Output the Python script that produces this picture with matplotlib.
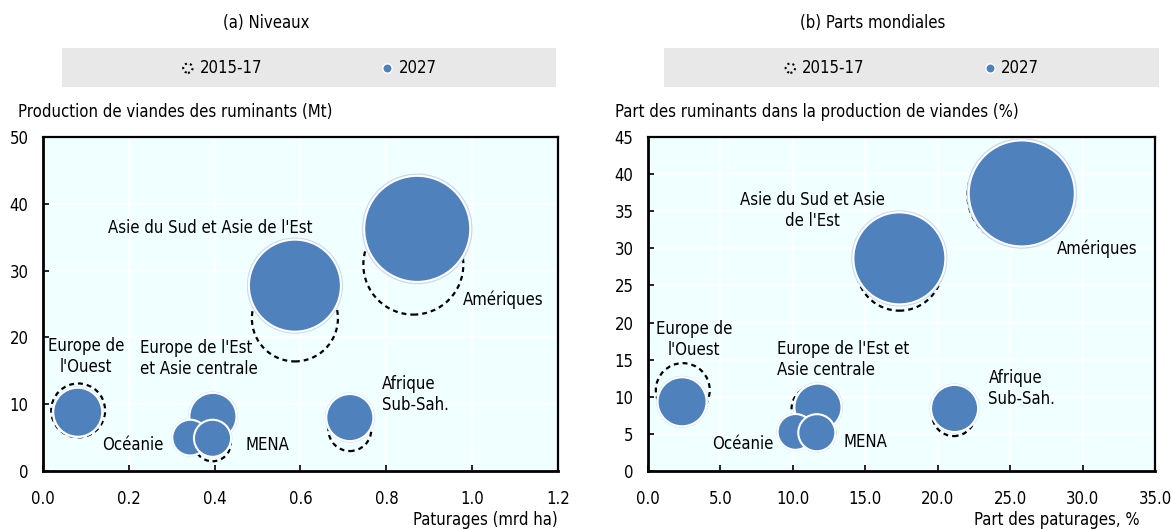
import numpy as np
import matplotlib.pyplot as plt
from matplotlib.patches import Rectangle
from matplotlib.ticker import FormatStrFormatter

plt.rcParams['font.family'] = ['DejaVu Sans']
plt.rcParams['font.stretch'] = 'condensed'
plt.rcParams['font.size'] = 12

# Regions (same order in both panels)
regions = ["Amériques", "Asie du Sud et Asie de l'Est", "Europe de l'Ouest",
           "Europe de l'Est et Asie centrale", "Océanie", "MENA", "Afrique Sub-Sah."]

# Bubble size = ruminant meat production (Mt)
size_2015 = [32.0, 23.7, 9.3, 6.0, 3.5, 4.3, 5.9]
size_2027 = [36.0, 27.1, 7.7, 7.1, 4.1, 4.4, 7.1]

# (a) Niveaux: pastures (bn ha) vs ruminant meat production (Mt)
a_x_2015 = [0.863, 0.587, 0.082, 0.396, 0.343, 0.395, 0.715]
a_y_2015 = [30.9, 22.85, 9.07, 8.1, 5.0, 4.2, 6.2]
a_x_2027 = [0.872, 0.587, 0.081, 0.396, 0.343, 0.395, 0.715]
a_y_2027 = [36.25, 27.75, 8.8, 8.17, 5.0, 4.9, 8.0]

# (b) Parts mondiales: share of pastures (%) vs ruminant share in meat production (%)
b_x_2015 = [25.5, 17.35, 2.4, 11.4, 10.18, 11.65, 21.1]
b_y_2015 = [37.2, 27.4, 10.9, 8.4, 5.27, 5.16, 7.6]
b_x_2027 = [25.8, 17.35, 2.35, 11.73, 10.18, 11.65, 21.16]
b_y_2027 = [37.4, 28.65, 9.33, 8.6, 5.27, 5.16, 8.43]

# label text and placement per panel
a_labels = ["Amériques", "Asie du Sud et Asie de l'Est", "Europe de\nl'Ouest",
            "Europe de l'Est\net Asie centrale", "Océanie", "MENA", "Afrique\nSub-Sah."]
a_lab_xy = [(0.978, 25.6), (0.39, 36.4), (0.10, 17.1), (0.226, 16.8),
            (0.281, 3.9), (0.472, 3.9), (0.789, 11.5)]
b_labels = ["Amériques", "Asie du Sud et Asie\nde l'Est", "Europe de\nl'Ouest",
            "Europe de l'Est et\nAsie centrale", "Océanie", "MENA", "Afrique\nSub-Sah."]
b_lab_xy = [(28.2, 29.9), (11.34, 35.1), (3.17, 17.7), (8.9, 15.07),
            (8.69, 3.68), (13.5, 3.95), (23.5, 11.07)]
lab_ha = ['left', 'center', 'center', 'left', 'right', 'left', 'left']

BLUE = '#4F81BD'
SCALE = 162  # points^2 per Mt


def panel(ax, x15, y15, x27, y27, labels, lab_xy, xlim, ylim, xticks, yticks, fmt):
    ax.set_facecolor('#F0FFFF')
    ax.set_axisbelow(True)
    ax.grid(True, color='white', lw=1.2)
    s15 = np.array(size_2015) * SCALE
    s27 = np.array(size_2027) * SCALE
    ax.scatter(x15, y15, s=s15, facecolors='none', edgecolors='black',
               linewidths=1.6, linestyles=(0, (2.2, 1.8)), zorder=2)
    # thin light halo then white edge, like the original
    ax.scatter(x27, y27, s=s27 * 1.06, color='#C9D8EC', zorder=3)
    ax.scatter(x27, y27, s=s27, color=BLUE, edgecolors='white', linewidths=1.5, zorder=4)
    for txt, (tx, ty), ha in zip(labels, lab_xy, lab_ha):
        ax.text(tx, ty, txt, ha=ha, va='center', multialignment=ha, fontsize=12, zorder=5)
    ax.set_xlim(*xlim)
    ax.set_ylim(*ylim)
    ax.set_xticks(xticks)
    ax.set_yticks(yticks)
    ax.xaxis.set_major_formatter(FormatStrFormatter(fmt))
    ax.tick_params(direction='in', length=4, width=1.2, labelsize=12, color='black')
    ax.tick_params(axis='x', pad=14)
    ax.tick_params(axis='y', pad=10.5)
    for sp in ax.spines.values():
        sp.set_color('black')
        sp.set_linewidth(1.6)
    ax.spines['left'].set_linewidth(2)
    ax.spines['bottom'].set_linewidth(2)


fig = plt.figure(figsize=(11.71, 5.29), dpi=100)
axa = fig.add_axes([0.0367, 0.1096, 0.4398, 0.6314])
axb = fig.add_axes([0.5534, 0.1096, 0.4330, 0.6314])

panel(axa, a_x_2015, a_y_2015, a_x_2027, a_y_2027, a_labels, a_lab_xy,
      (0, 1.2), (0, 50), np.arange(0, 1.21, 0.2), np.arange(0, 51, 10), '%.1f')
panel(axb, b_x_2015, b_y_2015, b_x_2027, b_y_2027, b_labels, b_lab_xy,
      (0, 35), (0, 45), np.arange(0, 36, 5), np.arange(0, 46, 5), '%.1f')
axb.yaxis.set_major_formatter(FormatStrFormatter('%d'))

# titles, axis labels
fig.text(0.227, 0.9565, "(a) Niveaux", ha='center', va='center', fontsize=12)
fig.text(0.7455, 0.9565, "(b) Parts mondiales", ha='center', va='center', fontsize=12)
fig.text(18 / 1171, 0.788, "Production de viandes des ruminants (Mt)", ha='left', va='center', fontsize=12)
fig.text(615 / 1171, 0.788, "Part des ruminants dans la production de viandes (%)", ha='left', va='center', fontsize=12)
fig.text(558 / 1171, 0.017, "Paturages (mrd ha)", ha='right', va='center', fontsize=12)
fig.text(1140 / 1171, 0.017, "Part des paturages, %", ha='right', va='center', fontsize=12)

# legends on grey bands
for (x0, w), ax in zip([(0.0529, 0.4219), (0.567, 0.4227)], [axa, axb]):
    fig.patches.append(Rectangle((x0, 0.8355), w, 0.0737, transform=fig.transFigure,
                                 facecolor='#E8E8E8', edgecolor='none', zorder=0))
    h15 = ax.scatter([], [], s=45, facecolors='none', edgecolors='black',
                     linewidths=1.5, linestyles=(0, (1, 1.5)))
    h27 = ax.scatter([], [], s=45, color=BLUE, edgecolors='white', linewidths=1)
    fig.legend([h15, h27], ['2015-17', '2027'], loc='center', ncol=2,
               bbox_to_anchor=(x0 + w / 2, 0.8355 + 0.0737 / 2), frameon=False,
               handlelength=0.8, handletextpad=0.3, columnspacing=7.1, fontsize=12,
               scatterpoints=1)

fig.savefig('out.png', dpi=100)
